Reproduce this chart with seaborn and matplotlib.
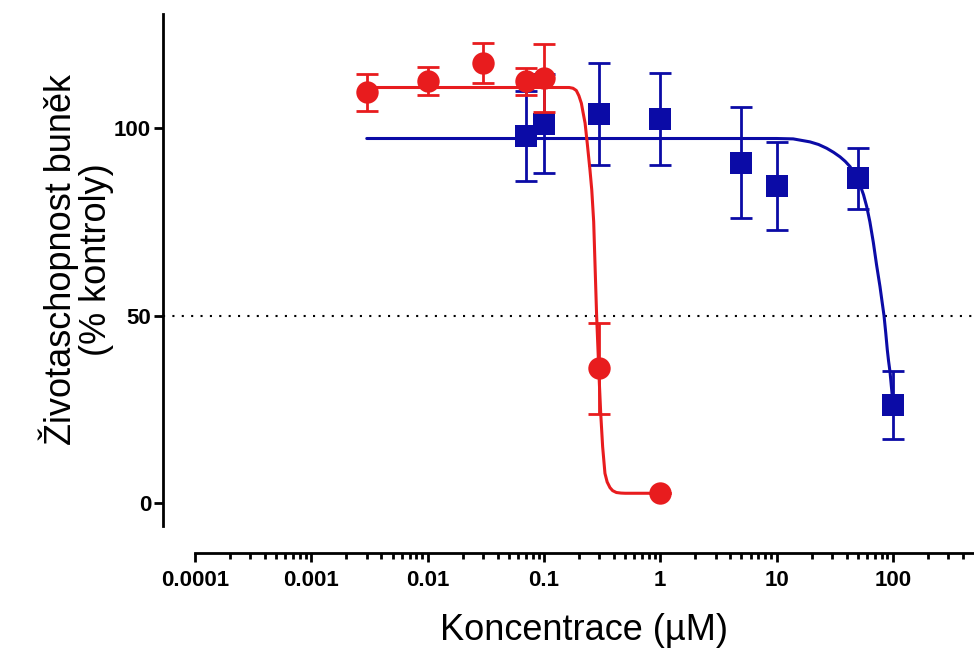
import matplotlib
matplotlib.use("Agg")
import matplotlib.pyplot as plt
import pandas as pd
import seaborn as sns
from matplotlib.ticker import FixedLocator, NullFormatter

# measured points (mean +/- SD)
red_conc = [0.003, 0.01, 0.03, 0.07, 0.1, 0.3, 1]
red_mean = [109.5, 112.5, 117.3, 112.5, 113.3, 35.9, 2.6]
red_sd = [5.0, 3.7, 5.4, 3.6, 9.0, 12.1, 0.0]

blue_conc = [0.07, 0.1, 0.3, 1, 5, 10, 50, 100]
blue_mean = [97.9, 101.1, 103.7, 102.4, 90.8, 84.5, 86.6, 26.1]
blue_sd = [12.0, 13.2, 13.6, 12.2, 14.8, 11.7, 8.1, 9.0]

# fitted curves
red_fit_x = [0.003, 0.1, 0.15, 0.165, 0.178, 0.19, 0.2, 0.21, 0.217, 0.226,
             0.236, 0.249, 0.258, 0.268, 0.284, 0.299, 0.308, 0.32, 0.335,
             0.35, 0.37, 0.39, 0.42, 0.46, 0.5, 1.0]
red_fit_y = [110.8, 110.8, 110.8, 110.8, 110.6, 110.0, 108.6, 106.6, 104.2,
             101.3, 95.9, 88.8, 83.5, 75.0, 50.0, 32.8, 23.9, 15.0, 7.9,
             5.6, 4.1, 3.3, 2.8, 2.65, 2.6, 2.6]
blue_fit_x = [0.003, 10, 13.9, 19.4, 23, 27, 31, 35.2, 39, 42.9, 47, 52.3, 56,
              59.7, 63.5, 68, 72.5, 77.6, 81, 84, 87, 89.7, 92, 94.6, 100]
blue_fit_y = [97.2, 97.2, 97.1, 96.3, 95.6, 94.6, 93.5, 92.3, 91.1, 89.7, 87.7,
              84.8, 82.2, 79.0, 75.0, 69.5, 63.5, 57.7, 53.5, 50.0, 45.3, 40.8,
              37.8, 35.0, 27.0]

x_ticks = [0.0001, 0.001, 0.01, 0.1, 1, 10, 100]
x_labels = ["0.0001", "0.001", "0.01", "0.1", "1", "10", "100"]
y_ticks = [0, 50, 100]

RED = "#E81C1E"
BLUE = "#0B0BA6"

sns.set_style("ticks")
plt.rcParams["font.family"] = ["Liberation Sans", "DejaVu Sans"]
plt.rcParams["text.color"] = "black"
plt.rcParams["axes.labelcolor"] = "black"

fig = plt.figure(figsize=(9.74, 6.52), dpi=100)
ax = fig.add_axes([163 / 974, 99 / 652, 811 / 974, 539 / 652])
ax.set_xscale("log")

ax.axhline(50, color="black", lw=1.5, ls=(0, (1, 3.5)), zorder=1)

series = [
    (blue_conc, blue_mean, blue_sd, blue_fit_x, blue_fit_y, BLUE, "s", 2),
    (red_conc, red_mean, red_sd, red_fit_x, red_fit_y, RED, "o", 6),
]
for conc, mean, sd, fx, fy, col, mk, z in series:
    ax.errorbar(conc, mean, yerr=sd, fmt="none", ecolor=col, elinewidth=2,
                capsize=8, capthick=2, zorder=z)
    pts = pd.DataFrame({"conc": conc, "mean": mean})
    sns.scatterplot(data=pts, x="conc", y="mean", marker=mk, s=260, color=col,
                    linewidth=0, ax=ax, zorder=z + 1)
    fit = pd.DataFrame({"conc": fx, "val": fy})
    sns.lineplot(data=fit, x="conc", y="val", color=col, lw=2.2, sort=False,
                 estimator=None, ax=ax, zorder=z + 2)

ax.set_xlim(5.31e-5, 499)
ax.set_ylim(-13.33, 130.4)

ax.xaxis.set_major_locator(FixedLocator(x_ticks))
ax.set_xticklabels(x_labels, fontsize=16, fontweight="bold")
minor = [m * 10.0 ** e for e in range(-4, 3) for m in range(2, 10) if m * 10.0 ** e <= 499]
ax.xaxis.set_minor_locator(FixedLocator(minor))
ax.xaxis.set_minor_formatter(NullFormatter())
ax.set_yticks(y_ticks)
ax.set_yticklabels([str(v) for v in y_ticks], fontsize=16, fontweight="bold")

ax.tick_params(axis="both", which="major", length=6.5, width=2, color="black",
               labelcolor="black")
ax.tick_params(axis="x", which="major", pad=6)
ax.tick_params(axis="y", which="major", pad=2)
ax.tick_params(axis="x", which="minor", length=4.3, width=2, color="black")

sns.despine(ax=ax)
for side in ["left", "bottom"]:
    ax.spines[side].set_linewidth(2)
    ax.spines[side].set_color("black")
ax.spines["left"].set_bounds(-6, 130.4)
ax.spines["bottom"].set_bounds(1e-4, 499)

ax.set_xlabel("Koncentrace (µM)", fontsize=26)
ax.xaxis.label.set_verticalalignment("center")
ax.xaxis.set_label_coords(0.519, -0.143)
ax.set_ylabel("Životaschopnost buněk\n(% kontroly)", fontsize=26, linespacing=1.0)
ax.yaxis.label.set_verticalalignment("center")
ax.yaxis.set_label_coords(-0.107, 0.544)

fig.savefig("out.png", dpi=100)
